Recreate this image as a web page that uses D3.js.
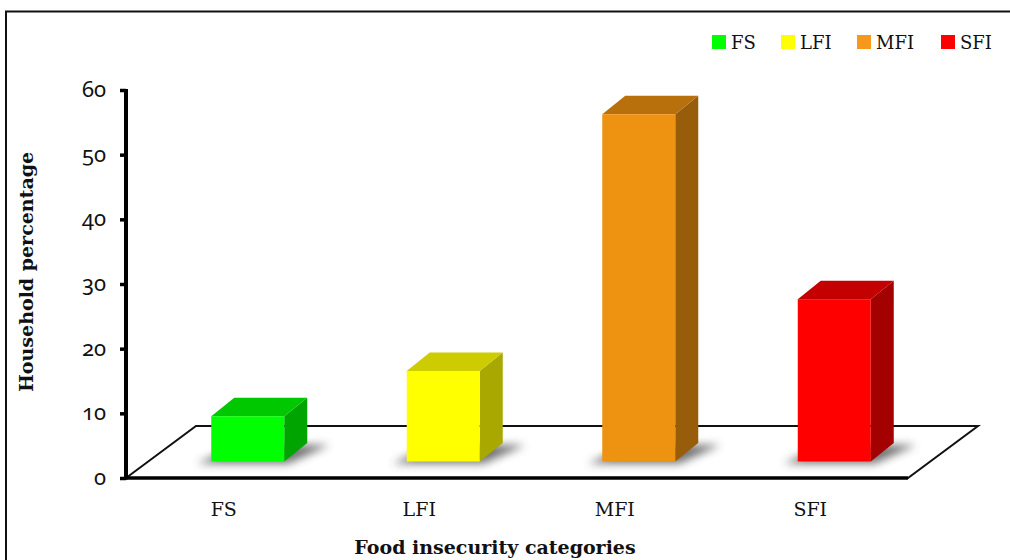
<!DOCTYPE html>
<html>
<head>
<meta charset="utf-8">
<script src="https://cdn.jsdelivr.net/npm/d3@7"></script>
<style>
  html, body { margin: 0; padding: 0; background: #fff; }
  svg { display: block; }
  .tick-num { font-family: "Noto Sans", Lato, sans-serif; font-variant-numeric: oldstyle-nums; font-feature-settings: "onum" 1; }
  .slab { font-family: "DejaVu Serif", serif; }
</style>
</head>
<body>
<svg id="chart" width="1010" height="560"></svg>
<script>
// Household share in each food insecurity category (%)
const categories = ["FS", "LFI", "MFI", "SFI"];
const values = [7.0, 14.0, 53.7, 25.1];
const yTicks = [0, 10, 20, 30, 40, 50, 60];

// Face colours for each category: front, top, side, legend swatch
const frontColors = ["#00ff00", "#ffff00", "#ee9212", "#ff0000"];
const topColors   = ["#00c800", "#cccc00", "#b8700c", "#c40000"];
const sideColors  = ["#00a400", "#a8a800", "#975d0a", "#a30000"];
const legendColors = ["#00ff00", "#ffff00", "#f7981d", "#ff0000"];

const svg = d3.select("#chart");

// Plot geometry
const x0 = 126, x1 = 908, yBase = 478, yTop = 90;
const floorDx = 70, floorDy = -52;   // depth of the floor
const barOffX = 24, barOffY = -16.5;  // bars sit part way into the floor
const barDx = 23, barDy = -18.5;      // depth of each bar
const barW = 73;

const x = d3.scaleBand().domain(categories).range([x0, x1]).padding(0);
const y = d3.scaleLinear().domain([0, 60]).range([yBase, yTop]);

// Outer frame
svg.append("rect")
  .attr("x", 6).attr("y", 11.5)
  .attr("width", 1020).attr("height", 600)
  .attr("fill", "none").attr("stroke", "#111").attr("stroke-width", 2);

// Shadow filter
const defs = svg.append("defs");
defs.append("filter").attr("id", "soft").attr("x", "-50%").attr("y", "-50%")
  .attr("width", "200%").attr("height", "200%")
  .append("feGaussianBlur").attr("stdDeviation", 4.5);

// Floor
const floorPts = [
  [x0, yBase], [x0 + floorDx, yBase + floorDy],
  [x1 + floorDx, yBase + floorDy], [x1, yBase]
];
svg.append("polygon")
  .attr("points", floorPts.map(p => p.join(",")).join(" "))
  .attr("fill", "#fff").attr("stroke", "#111").attr("stroke-width", 2)
  .attr("stroke-linejoin", "miter");

// Bars
const bars = svg.append("g");
categories.forEach((c, i) => {
  const cx = x(c) + x.bandwidth() / 2 + barOffX;
  const left = cx - barW / 2, right = cx + barW / 2;
  const bottom = y(0) + barOffY;
  const top = y(values[i]) + barOffY;
  const g = bars.append("g");
  // soft shadow on the floor
  g.append("polygon")
    .attr("points", [
      [left - 14, bottom + 2], [right + 4, bottom + 2],
      [right + barDx + 22, bottom + barDy + 2], [left + barDx + 4, bottom + barDy + 2]
    ].map(p => p.join(",")).join(" "))
    .attr("fill", "#444").attr("opacity", 0.75).attr("filter", "url(#soft)");
  // side face
  g.append("polygon")
    .attr("points", [
      [right, bottom], [right + barDx, bottom + barDy],
      [right + barDx, top + barDy], [right, top]
    ].map(p => p.join(",")).join(" "))
    .attr("fill", sideColors[i]);
  // top face
  g.append("polygon")
    .attr("points", [
      [left, top], [left + barDx, top + barDy],
      [right + barDx, top + barDy], [right, top]
    ].map(p => p.join(",")).join(" "))
    .attr("fill", topColors[i]);
  // front face
  g.append("rect")
    .attr("x", left).attr("y", top)
    .attr("width", barW).attr("height", bottom - top)
    .attr("fill", frontColors[i]);
});

// Bottom (category) axis line
svg.append("line")
  .attr("x1", x0).attr("x2", x1).attr("y1", yBase).attr("y2", yBase)
  .attr("stroke", "#000").attr("stroke-width", 3.5);

// Value axis
const yAxis = d3.axisLeft(y).tickValues(yTicks).tickSize(6).tickPadding(14);
const ya = svg.append("g").attr("transform", `translate(${x0},0)`).call(yAxis);
ya.attr("font-size", null).attr("font-family", null);
ya.select(".domain").attr("stroke", "#000").attr("stroke-width", 4)
  .attr("d", `M0,${yTop - 1}V${yBase + 1.5}`);
ya.selectAll(".tick line").attr("stroke", "#000").attr("stroke-width", 3.5);
ya.selectAll(".tick text")
  .attr("class", "tick-num")
  .attr("font-size", 22).attr("fill", "#111").attr("dy", "0.3em");

// Category labels
svg.append("g").selectAll("text").data(categories).join("text")
  .attr("class", "slab")
  .attr("x", d => x(d) + x.bandwidth() / 2)
  .attr("y", 516)
  .attr("text-anchor", "middle")
  .attr("font-size", 19).attr("fill", "#111")
  .text(d => d);

// Axis titles
svg.append("text")
  .attr("class", "slab")
  .attr("x", 495).attr("y", 554)
  .attr("text-anchor", "middle")
  .attr("font-size", 19).attr("font-weight", "bold").attr("fill", "#111")
  .text("Food insecurity categories");

svg.append("text")
  .attr("class", "slab")
  .attr("transform", "translate(33,272) rotate(-90)")
  .attr("text-anchor", "middle")
  .attr("font-size", 19).attr("font-weight", "bold").attr("fill", "#111")
  .text("Household percentage");

// Legend
const legendX = [712, 781, 857, 941];
const legend = svg.append("g");
categories.forEach((c, i) => {
  legend.append("rect")
    .attr("x", legendX[i]).attr("y", 35)
    .attr("width", 14).attr("height", 14)
    .attr("fill", legendColors[i]);
  legend.append("text")
    .attr("class", "slab")
    .attr("x", legendX[i] + 19).attr("y", 49)
    .attr("font-size", 18).attr("fill", "#111")
    .text(c);
});
</script>
</body>
</html>
